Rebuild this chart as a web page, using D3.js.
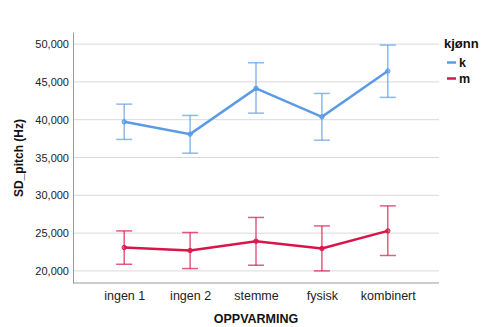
<!DOCTYPE html>
<html><head><meta charset="utf-8">
<script src="https://cdn.jsdelivr.net/npm/d3@7"></script>
<style>body{margin:0;background:#fff}svg{display:block;font-family:"Liberation Sans",Arial,sans-serif}</style>
</head><body><svg id="c" width="481" height="327"></svg>
<script>
const categories = ["ingen 1","ingen 2","stemme","fysisk","kombinert"];
const seriesNames = ["k","m"];
const kMean = [39720, 38090, 44140, 40380, 46430];
const kLow  = [37390, 35570, 40870, 37290, 42950];
const kHigh = [42060, 40560, 47530, 43470, 49870];
const mMean = [23090, 22700, 23930, 22960, 25290];
const mLow  = [20880, 20310, 20750, 20000, 22040];
const mHigh = [25290, 25080, 27070, 25950, 28600];
const yTicks = [20000, 25000, 30000, 35000, 40000, 45000, 50000];
const colors = {k: "#5b9be6", m: "#d8154a"};

const svg = d3.select("#c");
const L = 73, R = 439, T = 32, B = 283;
const x = d3.scalePoint().domain(categories).range([L, R]).padding(0.777);
const y = d3.scaleLinear().domain([18400, 51600]).range([B, T]);

// gridlines
svg.append("g").selectAll("line").data(yTicks).join("line")
  .attr("x1", L).attr("x2", R).attr("y1", d => y(d)).attr("y2", d => y(d))
  .attr("stroke", "#d9d9d9").attr("stroke-width", 1);

// axes
const yAxis = d3.axisLeft(y).tickValues(yTicks).tickSize(0).tickPadding(4).tickFormat(d3.format(",.0f"));
const gy = svg.append("g").attr("transform", `translate(${L},0)`).call(yAxis);
gy.select(".domain").attr("stroke", "#999");
gy.selectAll("text").attr("font-size", 11).attr("fill", "#222").attr("font-family", "Liberation Sans, Arial, sans-serif");
const xAxis = d3.axisBottom(x).tickSize(0).tickPadding(8);
const gx = svg.append("g").attr("transform", `translate(0,${B})`).call(xAxis);
gx.select(".domain").attr("stroke", "#999").attr("d", `M${L},0H${R}`);
gx.selectAll("text").attr("font-size", 12.5).attr("fill", "#222").attr("font-family", "Liberation Sans, Arial, sans-serif");

// series
const series = [
  {name: "k", mean: kMean, low: kLow, high: kHigh},
  {name: "m", mean: mMean, low: mLow, high: mHigh}
];
const line = d3.line().x((d, i) => x(categories[i])).y(d => y(d));
series.forEach(s => {
  const c = colors[s.name];
  const g = svg.append("g");
  const eb = g.append("g").attr("stroke", c).attr("stroke-opacity", 0.7).attr("stroke-width", 1.5);
  categories.forEach((cat, i) => {
    const cx = x(cat);
    eb.append("line").attr("x1", cx).attr("x2", cx).attr("y1", y(s.low[i])).attr("y2", y(s.high[i]));
    eb.append("line").attr("x1", cx - 8).attr("x2", cx + 8).attr("y1", y(s.low[i])).attr("y2", y(s.low[i]));
    eb.append("line").attr("x1", cx - 8).attr("x2", cx + 8).attr("y1", y(s.high[i])).attr("y2", y(s.high[i]));
  });
  g.append("path").attr("d", line(s.mean)).attr("fill", "none").attr("stroke", c).attr("stroke-width", 2.5);
  g.selectAll("circle").data(s.mean).join("circle")
    .attr("cx", (d, i) => x(categories[i])).attr("cy", d => y(d)).attr("r", 2.2)
    .attr("fill", c).attr("fill-opacity", 0.5).attr("stroke", c).attr("stroke-width", 1);
});

// axis titles
svg.append("text").attr("transform", "translate(23,158) rotate(-90)").attr("text-anchor", "middle")
  .attr("font-size", 12).attr("font-weight", "bold").attr("fill", "#111").text("SD_pitch (Hz)");
svg.append("text").attr("x", 256).attr("y", 323).attr("text-anchor", "middle")
  .attr("font-size", 12.5).attr("font-weight", "bold").attr("fill", "#111").text("OPPVARMING");

// legend
const lg = svg.append("g");
lg.append("text").attr("x", 444).attr("y", 48).attr("font-size", 13).attr("font-weight", "bold").attr("fill", "#111").text("kjønn");
seriesNames.forEach((n, i) => {
  const yy = 62.5 + i * 16;
  lg.append("line").attr("x1", 447).attr("x2", 456).attr("y1", yy).attr("y2", yy).attr("stroke", colors[n]).attr("stroke-width", 2.5);
  lg.append("text").attr("x", 459).attr("y", yy + 4).attr("font-size", 12.5).attr("font-weight", "bold").attr("fill", "#111").text(n);
});
</script></body></html>
